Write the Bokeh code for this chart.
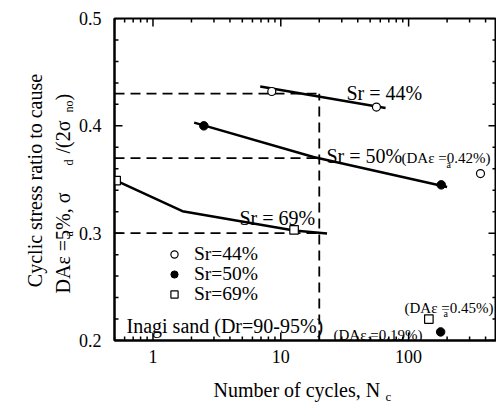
from math import pi

from bokeh.plotting import figure
from bokeh.layouts import row, column
from bokeh.models import Range1d, FixedTicker, Label, Legend, LegendItem
from bokeh.embed import file_html
from bokeh.resources import INLINE

# Cyclic tests on Inagi sand: cycles to DA = 5 % and cyclic stress ratio
sr44_cycles = [8.5, 56]
sr44_ratio = [0.432, 0.4175]
sr50_cycles = [2.5, 180]
sr50_ratio = [0.400, 0.345]
sr69_cycles = [0.515, 12.7]
sr69_ratio = [0.349, 0.303]

# Curves drawn through each saturation series
sr44_curve_cycles = [6.9, 66]
sr44_curve_ratio = [0.4367, 0.4166]
sr50_curve_cycles = [2.1, 18, 200]
sr50_curve_ratio = [0.403, 0.371, 0.343]
sr69_curve_cycles = [0.515, 1.7, 12.7, 23]
sr69_curve_ratio = [0.349, 0.3205, 0.3025, 0.2997]

# Tests that ended before reaching DA = 5 %
sr44_extra_cycles = [365]
sr44_extra_ratio = [0.3555]
sr50_extra_cycles = [178]
sr50_extra_ratio = [0.208]
sr69_extra_cycles = [144]
sr69_extra_ratio = [0.22]

# Strength read at 20 cycles
design_cycles = 20
design_ratios = [0.43, 0.37, 0.30]

# Axis ticks
x_major = [1, 10, 100]
x_tick_labels = ["1", "10", "100"]
y_major = [0.2, 0.3, 0.4, 0.5]
y_tick_labels = ["0.2", "0.3", "0.4", "0.5"]

X_START, X_END = 0.5, 487
Y_START, Y_END = 0.2, 0.5
FONT = "Liberation Serif"

# Page layout: a strip for the vertical title, the chart, a strip for the
# horizontal title underneath
PAGE_W, PAGE_H = 496, 404
TITLE_W = 75          # width of the vertical-title strip
CHART_H = 375         # chart height (frame + tick labels)
FRAME_L, FRAME_T, FRAME_B = 113, 18, 340
XLAB_FRAME_B = 411    # page y of the bottom edge of the lower strip's frame

p = figure(width=PAGE_W - TITLE_W, height=CHART_H, x_axis_type="log",
           x_range=Range1d(X_START, X_END), y_range=Range1d(Y_START, Y_END),
           output_backend="svg", toolbar_location=None, frame_align=False,
           min_border_left=FRAME_L - TITLE_W, min_border_right=0,
           min_border_top=FRAME_T, min_border_bottom=CHART_H - FRAME_B)
p.xgrid.visible = False
p.ygrid.visible = False
p.outline_line_color = "black"
p.outline_line_width = 2
p.background_fill_color = "white"
p.border_fill_color = "white"

p.xaxis.ticker = FixedTicker(ticks=x_major)
p.yaxis.ticker = FixedTicker(ticks=y_major)
p.xaxis.major_label_overrides = dict(zip(x_major, x_tick_labels))
p.yaxis.major_label_overrides = dict(zip(y_major, y_tick_labels))
for ax in (p.xaxis[0], p.yaxis[0]):
    ax.axis_line_width = 2
    ax.axis_line_color = "black"
    ax.major_tick_in = 0
    ax.major_tick_out = 0
    ax.minor_tick_in = 0
    ax.minor_tick_out = 0
    ax.major_label_text_font = FONT
    ax.major_label_text_font_size = "18px"
    ax.major_label_text_color = "black"
p.xaxis.major_label_standoff = 9
p.yaxis.major_label_standoff = 13

# Inward tick marks on all four sides of the frame
x_minor = [m * d for d in (0.1, 1, 10, 100) for m in range(2, 10)
           if X_START <= m * d <= X_END]
y_minor = [round(0.2 + 0.02 * i, 2) for i in range(16) if i % 5]
tick_style = dict(line_color="black", line_width=1.5, length_units="screen")
for xs, length in ((x_major, 8), (x_minor, 4)):
    p.ray(x=xs, y=[Y_START] * len(xs), angle=pi / 2, length=length, **tick_style)
    p.ray(x=xs, y=[Y_END] * len(xs), angle=-pi / 2, length=length, **tick_style)
for ys, length in ((y_major, 8), (y_minor, 4)):
    p.ray(x=[X_START] * len(ys), y=ys, angle=0, length=length, **tick_style)
    p.ray(x=[X_END] * len(ys), y=ys, angle=pi, length=length, **tick_style)

# Reference lines at 20 cycles
p.segment(x0=[X_START] * len(design_ratios), y0=design_ratios,
          x1=[design_cycles] * len(design_ratios), y1=design_ratios,
          line_color="black", line_width=1.8, line_dash="10 6")
p.segment(x0=[design_cycles], y0=[Y_START], x1=[design_cycles],
          y1=[max(design_ratios)],
          line_color="black", line_width=1.8, line_dash="10 6")

# Curves
for cx, cy in ((sr44_curve_cycles, sr44_curve_ratio),
               (sr50_curve_cycles, sr50_curve_ratio),
               (sr69_curve_cycles, sr69_curve_ratio)):
    p.line(cx, cy, line_color="black", line_width=2.5)

# Test points
r44 = p.scatter(sr44_cycles, sr44_ratio, marker="circle", size=8,
                fill_color="white", line_color="black", line_width=1.2)
r50 = p.scatter(sr50_cycles, sr50_ratio, marker="circle", size=8.5,
                fill_color="black", line_color="black")
r69 = p.scatter(sr69_cycles, sr69_ratio, marker="square", size=8.5,
                fill_color="white", line_color="black", line_width=1.2)
p.scatter(sr44_extra_cycles, sr44_extra_ratio, marker="circle", size=8,
          fill_color="white", line_color="black", line_width=1.2)
p.scatter(sr50_extra_cycles, sr50_extra_ratio, marker="circle", size=8.5,
          fill_color="black", line_color="black")
p.scatter(sr69_extra_cycles, sr69_extra_ratio, marker="square", size=8.5,
          fill_color="white", line_color="black", line_width=1.2)

# Legend: one entry per row so the rows sit 20 px apart
for label, rend, row_y in (("Sr=44%", r44, 75.5), ("Sr=50%", r50, 55.5),
                           ("Sr=69%", r69, 35.5)):
    p.add_layout(Legend(items=[LegendItem(label=label, renderers=[rend])],
                        location=(51, row_y), padding=0, margin=0, spacing=0,
                        glyph_width=18, glyph_height=20, label_height=20,
                        label_standoff=11, label_text_font=FONT,
                        label_text_font_size="19.5px",
                        label_text_color="black",
                        border_line_alpha=0, background_fill_alpha=0),
                 "center")


def strip(width, height):
    """Blank canvas used to carry axis titles outside the chart."""
    s = figure(width=width, height=height, x_range=Range1d(0, width),
               y_range=Range1d(0, height), output_backend="svg",
               toolbar_location=None, min_border=0, frame_align=False,
               x_axis_location=None, y_axis_location=None)
    s.xgrid.visible = False
    s.ygrid.visible = False
    s.outline_line_color = None
    s.background_fill_color = "white"
    s.border_fill_color = "white"
    return s


def put(fig, frame_left, frame_bottom, s, px, py, size="20px", align="left",
        angle=0.0):
    """Place text at page pixel (px, py) given the figure frame's page origin."""
    fig.add_layout(Label(x=px - frame_left, y=frame_bottom - py,
                         x_units="screen", y_units="screen", text=s,
                         text_font=FONT, text_font_size=size,
                         text_align=align, text_baseline="alphabetic",
                         angle=angle, text_color="black"))


# Vertical title (the strip's frame fills the whole strip)
ylab = strip(TITLE_W, CHART_H)
put(ylab, 0, CHART_H, "Cyclic stress ratio to cause", 34, 180,
    align="center", angle=pi / 2)
put(ylab, 0, CHART_H, "DAε =5%, σ", 62, 293, angle=pi / 2)
put(ylab, 0, CHART_H, "a", 68, 236, size="12px", angle=pi / 2)
put(ylab, 0, CHART_H, "d", 68, 165, size="12px", angle=pi / 2)
put(ylab, 0, CHART_H, "/(2σ", 62, 153, angle=pi / 2)
put(ylab, 0, CHART_H, "no", 68, 112, size="12px", angle=pi / 2)
put(ylab, 0, CHART_H, ")", 62, 100, angle=pi / 2)

# Horizontal title
xlab = strip(PAGE_W, PAGE_H - CHART_H)
put(xlab, 0, XLAB_FRAME_B, "Number of cycles, N", 213, 396)
put(xlab, 0, XLAB_FRAME_B, "c", 385, 403, size="13px")

# Curve labels inside the chart
put(p, FRAME_L, FRAME_B, "Sr = 44%", 345, 92)
put(p, FRAME_L, FRAME_B, "Sr = 50%", 325, 155)
put(p, FRAME_L, FRAME_B, "(DAε =0.42%)", 400, 157, size="15px")
put(p, FRAME_L, FRAME_B, "a", 445, 164, size="10px")
put(p, FRAME_L, FRAME_B, "Sr = 69%", 238, 217)
put(p, FRAME_L, FRAME_B, "Inagi sand (Dr=90-95%)", 125, 325)
put(p, FRAME_L, FRAME_B, "(DAε =0.45%)", 403, 307, size="15px")
put(p, FRAME_L, FRAME_B, "a", 442, 313, size="10px")
put(p, FRAME_L, FRAME_B, "(DAε =0.19%)", 332, 334, size="15px")
put(p, FRAME_L, FRAME_B, "a", 366, 338, size="10px")

page = column(row(ylab, p, spacing=0), xlab, spacing=0)
open("out.html", "w").write(file_html(page, INLINE))
